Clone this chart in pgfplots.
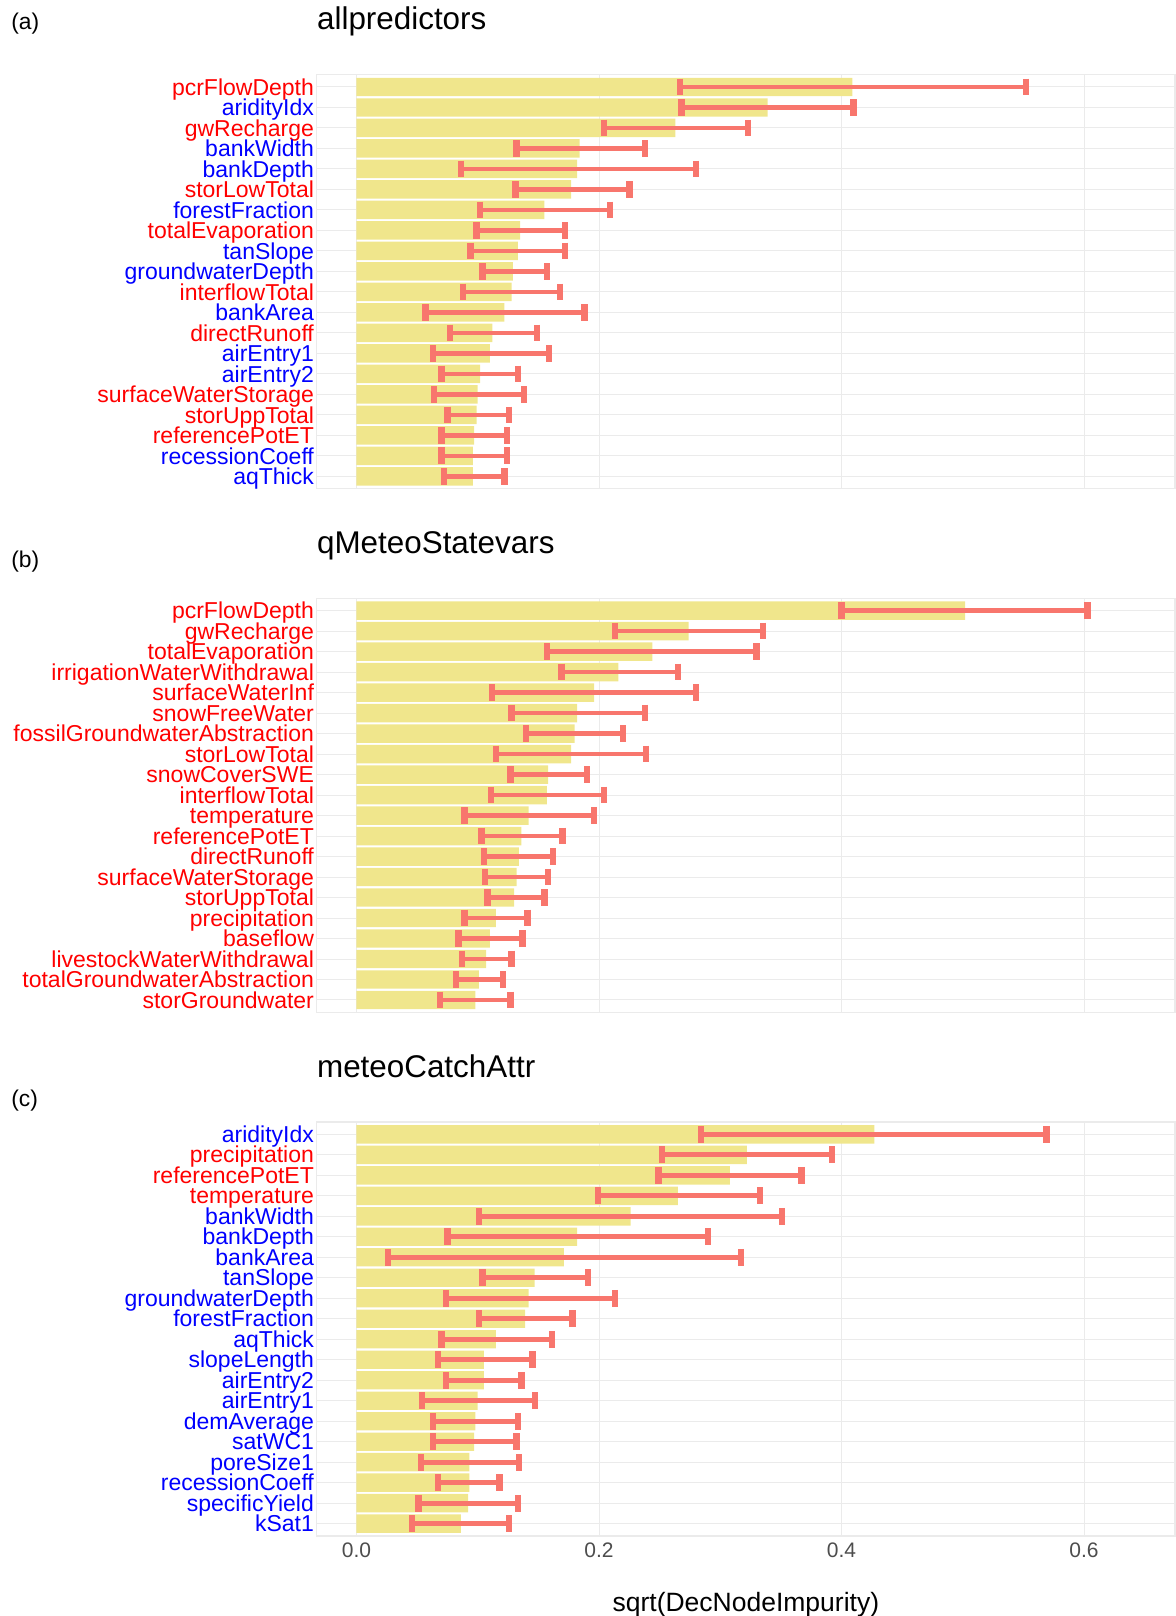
\documentclass[border=0pt]{standalone}
\usepackage{pgfplots}
\usepackage{pgfplotstable}
\pgfplotsset{compat=1.18}
\usepackage{fontspec}
\setmainfont{Liberation Sans}
\definecolor{barc}{HTML}{F0E68C}
\definecolor{errc}{HTML}{F8766D}
\definecolor{gridc}{HTML}{EBEBEB}
\definecolor{tickc}{HTML}{4D4D4D}
\definecolor{lr}{HTML}{FF0000}
\definecolor{lb}{HTML}{0000FF}
\newcommand\R[1]{\textcolor{lr}{#1}}
\newcommand\B[1]{\textcolor{lb}{#1}}

\pgfplotstableread{
i v lo hi
1 0.409 0.267 0.552
2 0.339 0.268 0.410
3 0.263 0.204 0.323
4 0.184 0.132 0.238
5 0.182 0.086 0.280
6 0.177 0.131 0.225
7 0.155 0.102 0.209
8 0.135 0.099 0.172
9 0.133 0.094 0.172
10 0.129 0.104 0.157
11 0.128 0.088 0.168
12 0.122 0.057 0.188
13 0.112 0.077 0.149
14 0.110 0.063 0.159
15 0.102 0.070 0.133
16 0.100 0.064 0.138
17 0.099 0.075 0.126
18 0.097 0.070 0.124
19 0.096 0.070 0.124
20 0.096 0.072 0.122
}\tabA

\pgfplotstableread{
i v lo hi
1 0.502 0.400 0.603
2 0.274 0.213 0.335
3 0.244 0.157 0.330
4 0.216 0.169 0.265
5 0.196 0.112 0.280
6 0.182 0.128 0.238
7 0.180 0.140 0.220
8 0.177 0.115 0.239
9 0.158 0.127 0.190
10 0.157 0.111 0.204
11 0.142 0.089 0.196
12 0.136 0.103 0.170
13 0.134 0.105 0.162
14 0.132 0.106 0.158
15 0.130 0.108 0.155
16 0.115 0.089 0.141
17 0.110 0.084 0.137
18 0.107 0.087 0.128
19 0.101 0.082 0.121
20 0.098 0.069 0.127
}\tabB

\pgfplotstableread{
i v lo hi
1 0.427 0.284 0.569
2 0.322 0.252 0.392
3 0.308 0.249 0.367
4 0.265 0.199 0.333
5 0.226 0.101 0.351
6 0.182 0.075 0.290
7 0.171 0.026 0.317
8 0.147 0.104 0.191
9 0.142 0.074 0.213
10 0.139 0.101 0.178
11 0.115 0.070 0.161
12 0.105 0.067 0.145
13 0.105 0.074 0.136
14 0.100 0.054 0.147
15 0.098 0.063 0.133
16 0.097 0.063 0.132
17 0.093 0.053 0.134
18 0.093 0.067 0.118
19 0.092 0.051 0.133
20 0.086 0.046 0.126
}\tabC

\pgfplotsset{
  rf/.style={
    scale only axis, width=429.15pt, height=207pt,
    xmin=-0.0328, xmax=0.675, ymin=0.4, ymax=20.6, y dir=reverse,
    axis line style={draw=gridc, line width=0.6pt},
    xtick={0,0.2,0.4,0.6}, ytick={1,...,20},
    major tick length=0pt,
    xmajorgrids, ymajorgrids,
    grid style={draw=gridc, line width=0.5pt},
    yticklabel style={font=\fontsize{11.5}{13}\selectfont, anchor=east, inner sep=0pt, xshift=-1.2pt, text height=8.2pt, text depth=0pt},
    xticklabel style={font=\fontsize{10.5}{12}\selectfont, text=tickc, anchor=north, inner sep=0pt, yshift=-3pt, text height=7.5pt, text depth=0pt},
    every axis title/.style={at={(axis description cs:0,1)}, anchor=base west, yshift=22.35pt, inner sep=0pt, font=\fontsize{15.7}{18}\selectfont},
    clip=false,
  },
  bars/.style={xbar, bar width=0.9, bar shift=0pt, fill=barc, draw=none},
  errs/.style={only marks, mark=|, mark size=4.2pt, mark options={line width=3.2pt, draw=errc},
    error bars/.cd, x dir=plus, x explicit, error mark=|,
    error bar style={line width=2.3pt, color=errc},
    error mark options={line width=3.2pt, mark size=4.2pt, draw=errc}},
}

\begin{document}
\begin{tikzpicture}
\useasboundingbox (0,0) rectangle (587.5pt,808pt);

\node[anchor=base west, inner sep=0pt, font=\fontsize{11.4}{13}\selectfont] at (5.5pt,793.35pt) {(a)};
\node[anchor=base west, inner sep=0pt, font=\fontsize{11.4}{13}\selectfont] at (5.5pt,524.35pt) {(b)};
\node[anchor=base west, inner sep=0pt, font=\fontsize{11.4}{13}\selectfont] at (5.5pt,254.5pt) {(c)};

\begin{axis}[rf, at={(158.35pt,770.65pt)}, anchor=north west,
  title={allpredictors}, xticklabels={,,,},
  yticklabels={\R{pcrFlowDepth},\B{aridityIdx},\R{gwRecharge},\B{bankWidth},\B{bankDepth},\R{storLowTotal},\B{forestFraction},\R{totalEvaporation},\B{tanSlope},\B{groundwaterDepth},\R{interflowTotal},\B{bankArea},\R{directRunoff},\B{airEntry1},\B{airEntry2},\R{surfaceWaterStorage},\R{storUppTotal},\R{referencePotET},\B{recessionCoeff},\B{aqThick}}]
\addplot[bars] table[x=v, y=i] {\tabA};
\addplot[errs] table[x=lo, y=i, x error expr=\thisrow{hi}-\thisrow{lo}] {\tabA};
\end{axis}

\begin{axis}[rf, at={(158.35pt,508.85pt)}, anchor=north west,
  title={qMeteoStatevars}, xticklabels={,,,},
  yticklabels={\R{pcrFlowDepth},\R{gwRecharge},\R{totalEvaporation},\R{irrigationWaterWithdrawal},\R{surfaceWaterInf},\R{snowFreeWater},\R{fossilGroundwaterAbstraction},\R{storLowTotal},\R{snowCoverSWE},\R{interflowTotal},\R{temperature},\R{referencePotET},\R{directRunoff},\R{surfaceWaterStorage},\R{storUppTotal},\R{precipitation},\R{baseflow},\R{livestockWaterWithdrawal},\R{totalGroundwaterAbstraction},\R{storGroundwater}}]
\addplot[bars] table[x=v, y=i] {\tabB};
\addplot[errs] table[x=lo, y=i, x error expr=\thisrow{hi}-\thisrow{lo}] {\tabB};
\end{axis}

\begin{axis}[rf, at={(158.35pt,247pt)}, anchor=north west,
  title={meteoCatchAttr},
  xticklabels={0.0,0.2,0.4,0.6},
  xlabel={sqrt(DecNodeImpurity)},
  xlabel style={at={(axis description cs:0.5,0)}, anchor=base, yshift=-37.7pt, inner sep=0pt, font=\fontsize{13.25}{15}\selectfont},
  yticklabels={\B{aridityIdx},\R{precipitation},\R{referencePotET},\R{temperature},\B{bankWidth},\B{bankDepth},\B{bankArea},\B{tanSlope},\B{groundwaterDepth},\B{forestFraction},\B{aqThick},\B{slopeLength},\B{airEntry2},\B{airEntry1},\B{demAverage},\B{satWC1},\B{poreSize1},\B{recessionCoeff},\B{specificYield},\B{kSat1}}]
\addplot[bars] table[x=v, y=i] {\tabC};
\addplot[errs] table[x=lo, y=i, x error expr=\thisrow{hi}-\thisrow{lo}] {\tabC};
\end{axis}
\end{tikzpicture}
\end{document}
